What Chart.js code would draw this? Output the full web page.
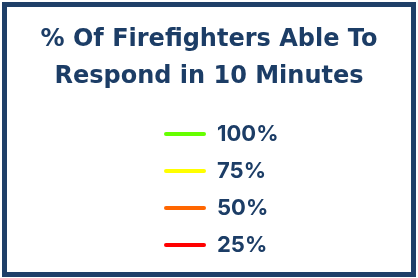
<!DOCTYPE html>
<html>
<head>
<meta charset="utf-8">
<script src="https://cdn.jsdelivr.net/npm/chart.js@4"></script>
<style>
  html, body { margin: 0; padding: 0; background: #ffffff; }
  #wrap { position: relative; width: 418px; height: 278px; }
  #frame {
    position: absolute; left: 2px; top: 2px; width: 414px; height: 275px;
    box-sizing: border-box; border: 5px solid #1f3f68; pointer-events: none;
  }
</style>
</head>
<body>
<div id="wrap">
  <canvas id="legendChart" width="418" height="278"></canvas>
  <div id="frame"></div>
</div>
<script>
const titleLines = ['% Of Firefighters Able To', 'Respond in 10 Minutes'];
const levels = ['100%', '75%', '50%', '25%'];
const levelColors = ['#66ff00', '#ffff00', '#ff6600', '#ff0000'];
const navy = '#1c3d66';

// vertical legend in 'chartArea' gets top = 0, move it back into the chart area
const legendInArea = {
    id: 'legendInArea',
    afterLayout(chart) {
        const lg = chart.legend;
        if (!lg) return;
        lg.top = chart.chartArea.top;
        lg.bottom = chart.chartArea.bottom;
    }
};

const ctx = document.getElementById('legendChart').getContext('2d');

const chart = new Chart(ctx, {
    type: 'line',
    data: {
        labels: [],
        datasets: levels.map((lvl, i) => ({
            label: lvl,
            data: [],
            borderColor: levelColors[i],
            backgroundColor: levelColors[i],
            borderWidth: 0,
        }))
    },
    options: {
        responsive: false,
        animation: false,
        devicePixelRatio: 1,
        layout: { padding: 0 },
        scales: {
            x: { display: false },
            y: {
                display: true,
                grid: { display: false },
                border: { display: false },
                ticks: { display: false },
                afterFit: (scale) => { scale.width = 149; }
            }
        },
        plugins: {
            title: {
                display: true,
                text: titleLines,
                color: navy,
                font: { family: 'DejaVu Sans', size: 24, weight: 'bold', lineHeight: 1.54 },
                padding: { top: 21, bottom: 13 }
            },
            legend: {
                position: 'chartArea',
                align: 'start',
                labels: {
                    color: navy,
                    font: { family: 'Inter', size: 22, weight: 'bold' },
                    boxWidth: 42,
                    boxHeight: 4,
                    useBorderRadius: true,
                    borderRadius: 2,
                    padding: 15
                }
            },
            tooltip: { enabled: false }
        }
    },
    plugins: [legendInArea]
});
</script>
</body>
</html>
